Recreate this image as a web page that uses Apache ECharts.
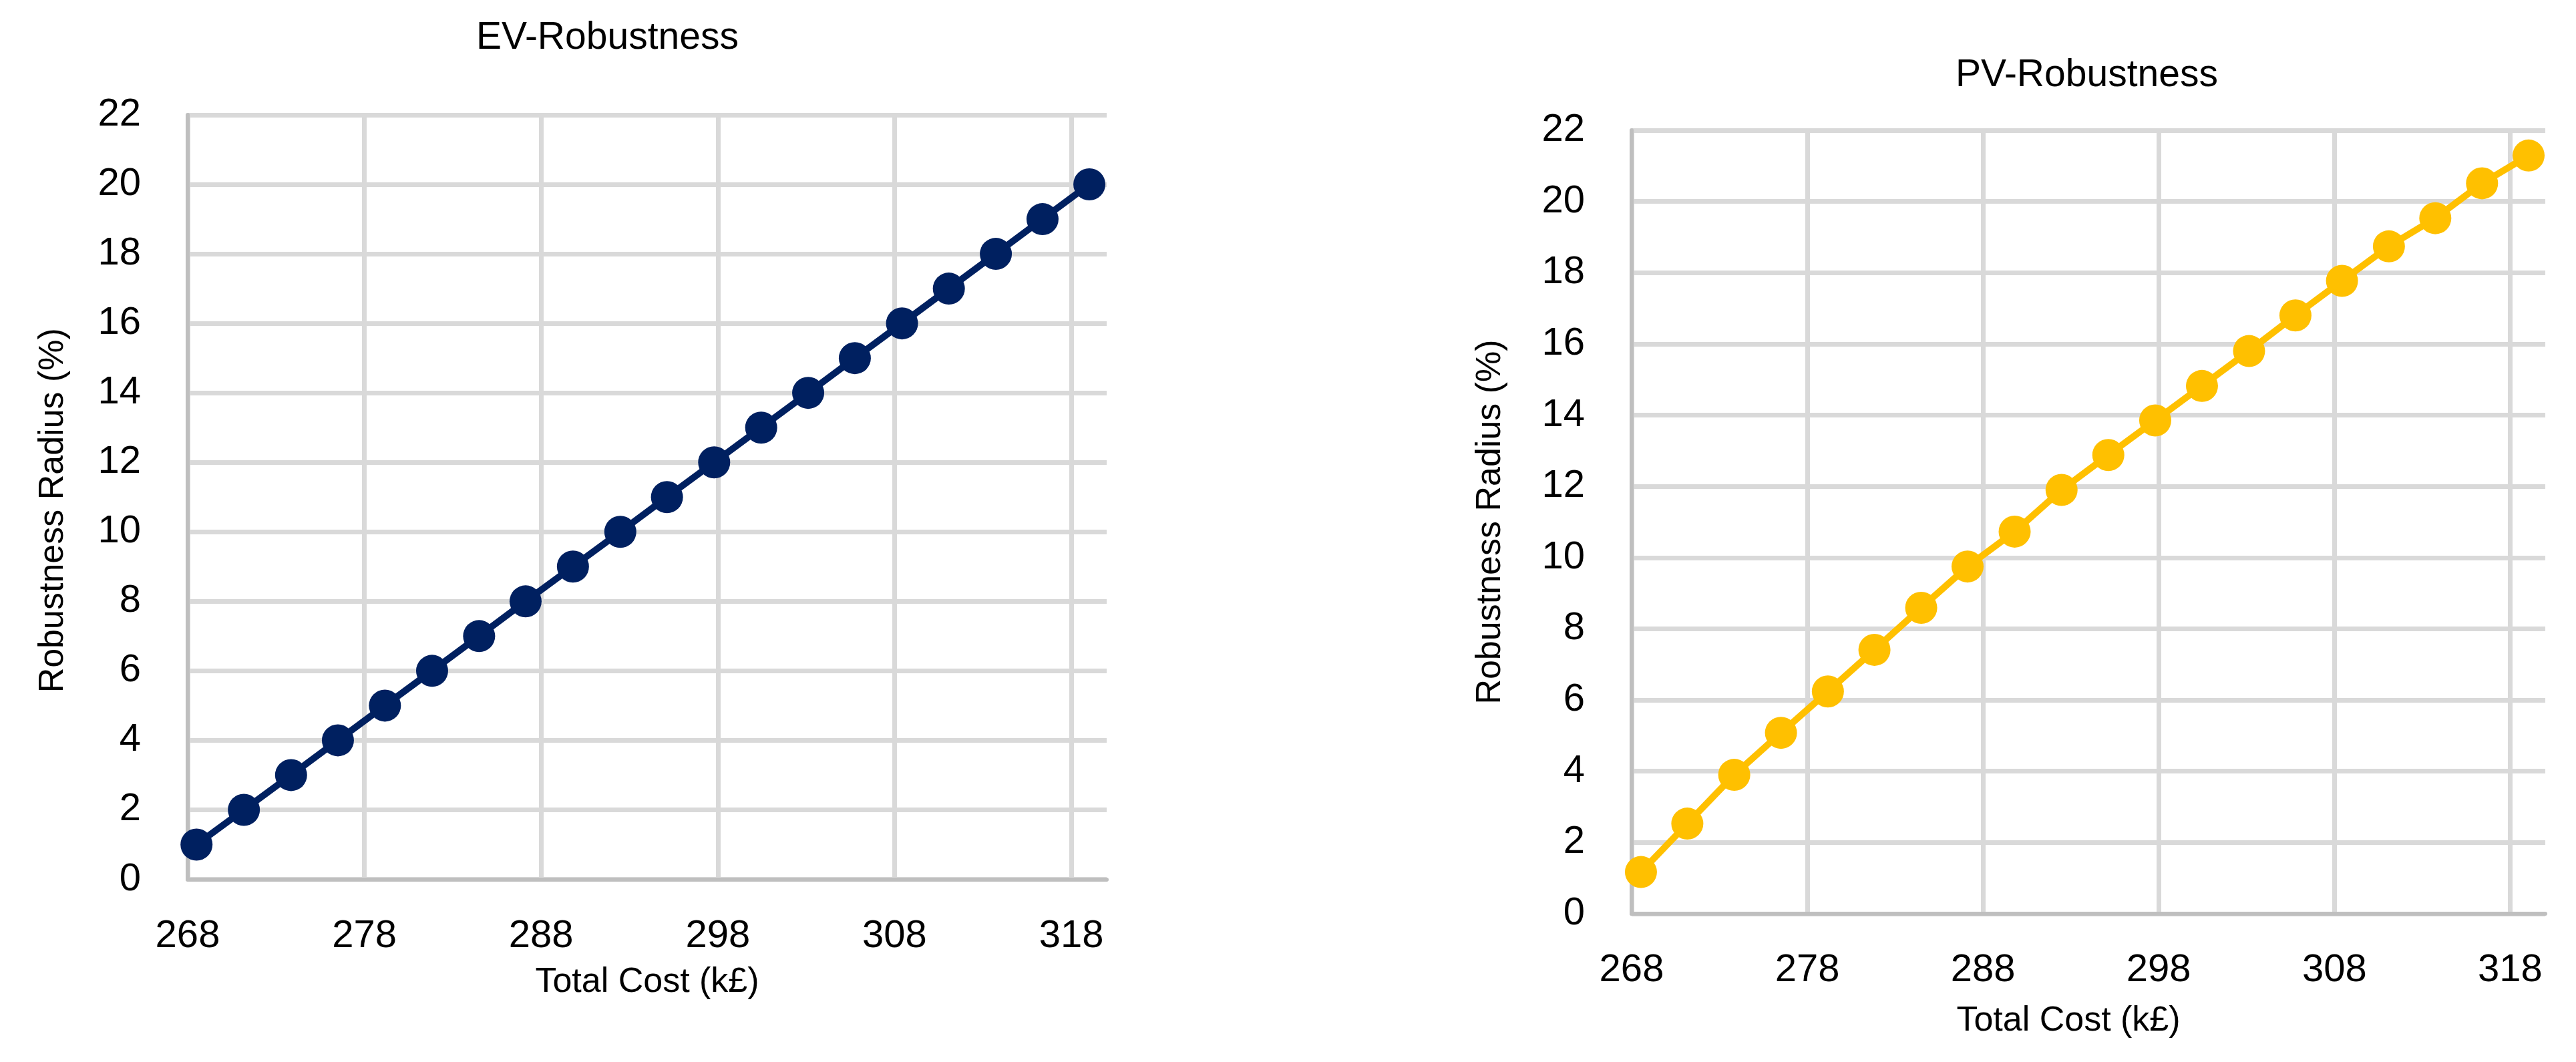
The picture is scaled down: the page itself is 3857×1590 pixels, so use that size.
<!DOCTYPE html>
<html>
<head>
<meta charset="utf-8">
<script src="https://cdn.jsdelivr.net/npm/echarts@6/dist/echarts.min.js"></script>
<style>
html,body{margin:0;padding:0;background:#fff;}
#chart{width:3857px;height:1590px;}
</style>
</head>
<body>
<div id="chart"></div>
<script>
// ---- data ----
const evTitle = 'EV-Robustness';
const pvTitle = 'PV-Robustness';
const xName = 'Total Cost (k£)';
const yName = 'Robustness Radius (%)';

const evCost = [268.50, 271.18, 273.85, 276.50, 279.16, 281.83, 284.49, 287.12, 289.80, 292.48,
                295.12, 297.79, 300.45, 303.11, 305.75, 308.42, 311.07, 313.73, 316.37, 319.02];
const evRadius = [1, 2, 3, 4, 5, 6, 7, 8, 9, 10, 11, 12, 13, 14, 15, 16, 17, 18, 19, 20];

const pvCost = [268.53, 271.17, 273.84, 276.50, 279.17, 281.82, 284.48, 287.12, 289.80, 292.47,
                295.13, 297.80, 300.46, 303.14, 305.78, 308.43, 311.10, 313.74, 316.40, 319.05];
const pvRadius = [1.17, 2.53, 3.90, 5.08, 6.24, 7.41, 8.59, 9.75, 10.73, 11.90,
                  12.88, 13.85, 14.82, 15.80, 16.80, 17.77, 18.74, 19.53, 20.51, 21.29];

const xMin = 268, xMax = 320, xStep = 10;
const yMin = 0, yMax = 22, yStep = 2;

// ---- styling ----
const FONT = '"Liberation Sans", Arial, sans-serif';
const EV_COLOR = '#002060';
const PV_COLOR = '#FFC000';

function zip(a, b) { return a.map((v, i) => [v, b[i]]); }

function xAxisCfg(gi, nameGap, namePad) {
  return {
    type: 'value', gridIndex: gi, min: xMin, max: xMax, interval: xStep,
    name: xName, nameLocation: 'middle', nameGap: nameGap,
    nameTextStyle: { fontFamily: FONT, fontSize: 52, color: '#000', padding: namePad },
    axisLine: { show: true, onZero: false, lineStyle: { color: '#bfbfbf', width: 6 } },
    axisTick: { show: false },
    axisLabel: { fontFamily: FONT, fontSize: 58, color: '#000', margin: 56, showMaxLabel: false },
    splitLine: { show: true, showMaxLine: false, lineStyle: { color: '#d9d9d9', width: 7 } }
  };
}
function yAxisCfg(gi, nameGap, namePad) {
  return {
    type: 'value', gridIndex: gi, min: yMin, max: yMax, interval: yStep,
    name: yName, nameLocation: 'middle', nameGap: nameGap,
    nameTextStyle: { fontFamily: FONT, fontSize: 52, color: '#000', padding: namePad },
    axisLine: { show: true, lineStyle: { color: '#bfbfbf', width: 6 } },
    axisTick: { show: false },
    axisLabel: { fontFamily: FONT, fontSize: 58, color: '#000', margin: 70 },
    splitLine: { show: true, lineStyle: { color: '#d9d9d9', width: 7 } }
  };
}
function seriesCfg(idx, data, color) {
  return {
    type: 'line', xAxisIndex: idx, yAxisIndex: idx, data: data,
    symbol: 'circle', symbolSize: 48, showSymbol: true,
    lineStyle: { color: color, width: 10 },
    itemStyle: { color: color },
    z: 5
  };
}

const chart = echarts.init(document.getElementById('chart'), null, { renderer: 'canvas' });
chart.setOption({
  animation: false,
  backgroundColor: '#ffffff',
  title: [
    { text: evTitle, left: 713, top: 29, padding: 0,
      textStyle: { fontFamily: FONT, fontSize: 57, fontWeight: 'normal', color: '#000' } },
    { text: pvTitle, left: 2928, top: 85, padding: 0,
      textStyle: { fontFamily: FONT, fontSize: 57, fontWeight: 'normal', color: '#000' } }
  ],
  grid: [
    { left: 281, top: 172, width: 1376, height: 1144.5, containLabel: false },
    { left: 2443, top: 195, width: 1368, height: 1173, containLabel: false }
  ],
  xAxis: [ xAxisCfg(0, 128, [0, 0, 0, 0]), xAxisCfg(1, 135, [0, 60, 0, 0]) ],
  yAxis: [ yAxisCfg(0, 175, [0, 40, 0, 0]), yAxisCfg(1, 185, [0, 0, 0, 0]) ],
  series: [
    seriesCfg(0, zip(evCost, evRadius), EV_COLOR),
    seriesCfg(1, zip(pvCost, pvRadius), PV_COLOR)
  ]
});
</script>
</body>
</html>
